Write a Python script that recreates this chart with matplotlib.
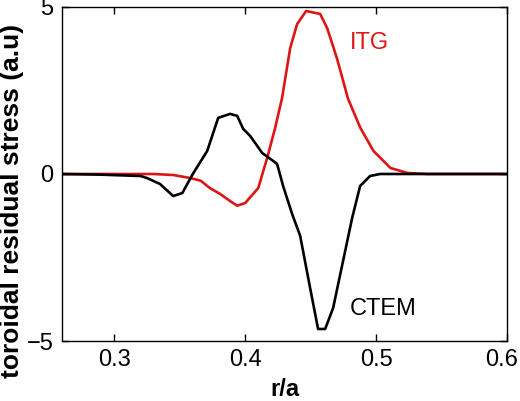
import matplotlib
matplotlib.use("Agg")
import matplotlib.pyplot as plt
from matplotlib.transforms import ScaledTranslation

# values
ctem_r = [0.26, 0.29, 0.32, 0.325, 0.335, 0.345, 0.352, 0.360, 0.371, 0.3794,
          0.3885, 0.3939, 0.3985, 0.4038, 0.413, 0.4214, 0.4244, 0.429, 0.4359,
          0.442, 0.4496, 0.4557, 0.4611, 0.4672, 0.4748, 0.4817, 0.4878,
          0.4954, 0.5031, 0.6]
ctem_s = [0.0, -0.02, -0.06, -0.12, -0.3, -0.66, -0.57, 0.0, 0.69, 1.68,
          1.80, 1.74, 1.35, 1.14, 0.63, 0.39, 0.30, -0.36, -1.2,
          -1.85, -3.41, -4.64, -4.64, -4.01, -2.60, -1.32, -0.36,
          -0.06, 0.0, 0.0]

itg_r = [0.26, 0.33, 0.345, 0.358, 0.366, 0.373, 0.381, 0.3885, 0.3939, 0.400,
         0.41, 0.4168, 0.4229, 0.4282, 0.4344, 0.4397, 0.4466, 0.4573, 0.4626,
         0.4702, 0.4786, 0.488, 0.498, 0.511, 0.524, 0.54, 0.6]
itg_s = [0.0, 0.0, -0.03, -0.12, -0.2, -0.42, -0.6, -0.81, -0.95, -0.87,
         -0.42, 0.48, 1.38, 2.28, 3.77, 4.49, 4.88, 4.79, 4.37,
         3.45, 2.25, 1.38, 0.69, 0.18, 0.03, 0.0, 0.0]

x_ticks = [0.3, 0.4, 0.5, 0.6]
y_ticks = [-5, 0, 5]

plt.rcParams['font.family'] = ['Liberation Sans', 'DejaVu Sans']

fig = plt.figure(figsize=(5.2, 4.01), dpi=100)
ax = fig.add_axes([0.119, 0.1496, 0.856, 0.833])

red = '#dd1515'
ax.plot(itg_r, itg_s, color=red, lw=1.9)
ax.plot(ctem_r, ctem_s, color='black', lw=1.9)

ax.text(0.480, 3.92, "ITG", color=red, fontsize=17, va='center', ha='left')
ax.text(0.480, -4.04, "CTEM", color='black', fontsize=17, va='center', ha='left')

ax.set_xlim(0.26, 0.6)
ax.set_ylim(-5, 5)
ax.set_xticks(x_ticks)
ax.set_xticklabels([str(t) for t in x_ticks])
ax.set_yticks(y_ticks)
ax.tick_params(direction='in', top=True, right=True, length=5, width=1,
               labelsize=17, pad=6)
for s in ax.spines.values():
    s.set_linewidth(1)

# last x tick label sits at the figure edge, nudge it in a little
last = ax.get_xticklabels()[-1]
last.set_transform(last.get_transform() + ScaledTranslation(-5 / 100, 0, fig.dpi_scale_trans))

ax.set_xlabel("r/a", fontsize=17, fontweight='bold', labelpad=5)
ax.set_ylabel("toroidal residual stress (a.u)", fontsize=19, fontweight='bold')
ax.yaxis.set_label_coords(-0.085, 0.419)

fig.savefig("out.png", dpi=100)
